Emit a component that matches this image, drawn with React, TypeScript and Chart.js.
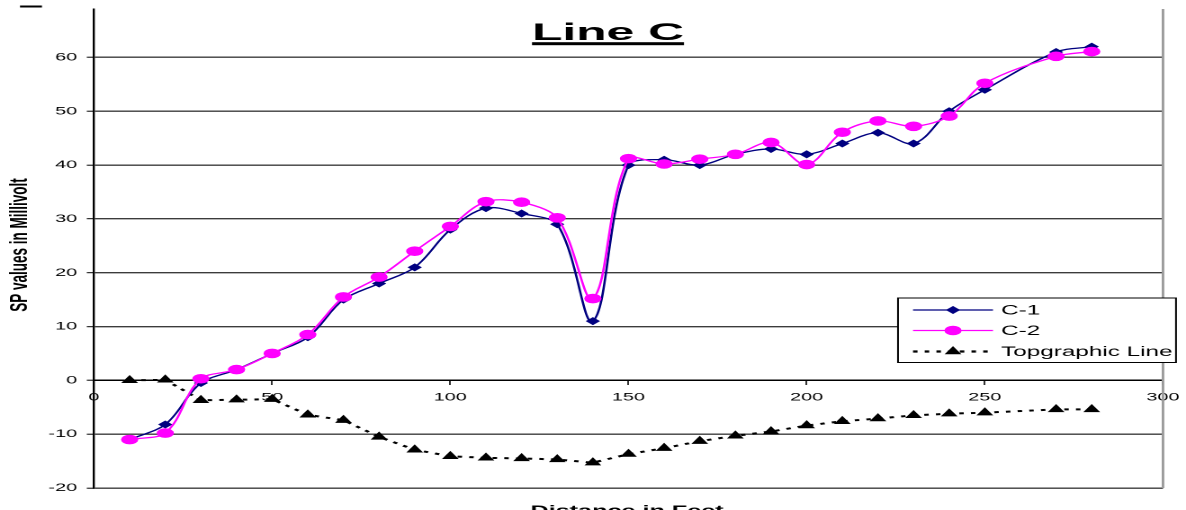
import React, { useEffect, useRef } from 'react';
import { Chart, registerables } from 'chart.js';

Chart.register(...registerables);

// ---- data ----
const distances = [10, 20, 30, 40, 50, 60, 70, 80, 90, 100, 110, 120, 130, 140, 150, 160, 170, 180, 190, 200, 210, 220, 230, 240, 250, 270, 280];
const c1Values = [-11, -8.2, -0.5, 2, 5, 8, 15, 18, 21, 28, 32, 31, 29, 11, 40, 41, 40, 42, 43, 42, 44, 46, 44, 50, 54, 61, 62];
const c2Values = [-11, -9.8, 0.3, 2, 5, 8.5, 15.5, 19.2, 24, 28.6, 33.2, 33.1, 30.2, 15.2, 41.2, 40.2, 41.1, 42, 44.2, 40.1, 46.1, 48.2, 47.2, 49.1, 55.2, 60.2, 61.1];
const topoValues = [0, 0.1, -3.7, -3.6, -3.5, -6.4, -7.4, -10.5, -12.9, -14.1, -14.4, -14.5, -14.7, -15.3, -13.7, -12.6, -11.3, -10.3, -9.5, -8.4, -7.6, -7.1, -6.5, -6.2, -6.0, -5.4, -5.4];
const xTicks = [0, 50, 100, 150, 200, 250, 300];
const yTicks = [-20, -10, 0, 10, 20, 30, 40, 50, 60];
const seriesNames = ['C-1', 'C-2', 'Topgraphic Line'];
const titleText = 'Line C';
const xTitle = 'Distance in Feet';
const yTitle = 'SP values in Millivolt';

// ---- layout (the reference is stretched horizontally) ----
const W = 659;
const SX = 1186 / W;
const H = 510;
const FONT = '"Liberation Sans", Arial, sans-serif';
const NAVY = '#000080';
const PINK = '#FF00FF';

function drawMarker(ctx: CanvasRenderingContext2D, style: string, x: number, y: number, r: number, color: string) {
  ctx.save();
  ctx.fillStyle = color;
  ctx.strokeStyle = color;
  ctx.lineWidth = 1;
  ctx.setLineDash([]);
  ctx.beginPath();
  if (style === 'circle') {
    ctx.arc(x, y, r, 0, Math.PI * 2);
  } else if (style === 'rectRot') {
    ctx.moveTo(x - r, y);
    ctx.lineTo(x, y - r);
    ctx.lineTo(x + r, y);
    ctx.lineTo(x, y + r);
    ctx.closePath();
  } else {
    let a = 0;
    ctx.moveTo(x + Math.sin(a) * r, y - Math.cos(a) * r);
    a += (2 * Math.PI) / 3;
    ctx.lineTo(x + Math.sin(a) * r, y - Math.cos(a) * r);
    a += (2 * Math.PI) / 3;
    ctx.lineTo(x + Math.sin(a) * r, y - Math.cos(a) * r);
    ctx.closePath();
  }
  ctx.fill();
  ctx.stroke();
  ctx.restore();
}

const decor = {
  id: 'decor',
  afterDraw(chart: any) {
    const { ctx, chartArea: ca } = chart;
    ctx.save();
    // right frame line
    ctx.strokeStyle = '#9a9a9a';
    ctx.lineWidth = 1.4;
    ctx.beginPath();
    ctx.moveTo(ca.right, ca.top);
    ctx.lineTo(ca.right, ca.bottom);
    ctx.stroke();

    // small cropped artifact at top-left
    ctx.fillStyle = '#000';
    ctx.fillRect(11.1, 5.5, 12.2, 2);

    // title
    ctx.font = `bold 24px ${FONT}`;
    ctx.fillStyle = '#000';
    ctx.textAlign = 'center';
    ctx.textBaseline = 'alphabetic';
    const tw = ctx.measureText(titleText).width;
    const targetW = 152 / SX;
    const tx = 608 / SX;
    ctx.save();
    ctx.translate(tx, 40);
    ctx.scale(targetW / tw, 1);
    ctx.fillText(titleText, 0, 0);
    ctx.restore();
    ctx.fillRect(tx - targetW / 2, 42.2, targetW, 3);

    // y title
    ctx.save();
    ctx.font = `bold 13.5px ${FONT}`;
    ctx.translate(20 / SX, 245);
    ctx.rotate(-Math.PI / 2);
    ctx.textAlign = 'center';
    ctx.textBaseline = 'middle';
    ctx.fillText(yTitle, 0, 0);
    ctx.restore();

    // x title (cut off at the bottom)
    ctx.font = `bold 14px ${FONT}`;
    ctx.textAlign = 'center';
    ctx.textBaseline = 'alphabetic';
    ctx.fillText(xTitle, 627 / SX, 515);

    // legend
    const lx = 898 / SX;
    const lr = 1176 / SX;
    const ly = 298;
    const lb = 362.5;
    ctx.fillStyle = '#fff';
    ctx.fillRect(lx, ly, lr - lx, lb - ly);
    ctx.strokeStyle = '#000';
    ctx.lineWidth = 1;
    ctx.strokeRect(lx, ly, lr - lx, lb - ly);
    const rows = [310, 330.5, 351.5];
    const s0 = 913 / SX;
    const s1 = 993 / SX;
    const mx = 953 / SX;
    const tx0 = 1001 / SX;
    const styles = [
      { color: NAVY, width: 1.2, dash: [] as number[], marker: 'rectRot', r: 3.3 },
      { color: PINK, width: 1.3, dash: [] as number[], marker: 'circle', r: 4.3 },
      { color: '#000', width: 2.2, dash: [2.5, 4], marker: 'triangle', r: 4.4 },
    ];
    rows.forEach((ry, i) => {
      const st = styles[i];
      ctx.save();
      ctx.strokeStyle = st.color;
      ctx.lineWidth = st.width;
      ctx.setLineDash(st.dash);
      ctx.beginPath();
      ctx.moveTo(s0, ry);
      ctx.lineTo(s1, ry);
      ctx.stroke();
      ctx.restore();
      drawMarker(ctx, st.marker, mx, ry, st.r, st.color);
      ctx.fillStyle = '#000';
      ctx.font = `13.5px ${FONT}`;
      ctx.textAlign = 'left';
      ctx.textBaseline = 'middle';
      ctx.fillText(seriesNames[i], tx0, ry + 1);
    });
    ctx.restore();
  },
};

const zeroPadding = (s: any) => {
  s.paddingTop = 0;
  s.paddingBottom = 0;
  s.paddingLeft = 0;
  s.paddingRight = 0;
};

export default function App() {
  const ref = useRef<HTMLCanvasElement>(null);
  useEffect(() => {
    document.body.style.margin = '0';
    Chart.defaults.font.family = FONT;
    const toPts = (vals: number[]) => distances.map((x, i) => ({ x, y: vals[i] }));
    const chart = new Chart(ref.current as HTMLCanvasElement, {
      type: 'line',
      data: {
        datasets: [
          {
            label: seriesNames[0],
            data: toPts(c1Values),
            borderColor: NAVY,
            backgroundColor: NAVY,
            borderWidth: 1.3,
            pointStyle: 'rectRot',
            pointRadius: 3.3,
            pointBorderWidth: 1,
            tension: 0.35,
            order: 1,
          },
          {
            label: seriesNames[1],
            data: toPts(c2Values),
            borderColor: PINK,
            backgroundColor: PINK,
            borderWidth: 1.3,
            pointStyle: 'circle',
            pointRadius: 4.3,
            pointBorderWidth: 1,
            tension: 0.35,
            order: 0,
          },
          {
            label: seriesNames[2],
            data: toPts(topoValues),
            borderColor: '#000',
            backgroundColor: '#000',
            borderWidth: 2,
            borderDash: [2.5, 4],
            pointStyle: 'triangle',
            pointRadius: 4.4,
            pointBorderWidth: 1,
            tension: 0,
            order: 2,
          },
        ],
      } as any,
      options: {
        animation: false,
        responsive: true,
        maintainAspectRatio: false,
        devicePixelRatio: 2,
        layout: { padding: { left: 0, right: W - 1163 / SX, top: 9, bottom: 22 } },
        plugins: {
          legend: { display: false },
          tooltip: { enabled: false },
          title: { display: false },
        },
        scales: {
          x: {
            type: 'linear',
            min: 0,
            max: 300,
            position: { y: 0 } as any,
            afterBuildTicks: (s: any) => {
              s.ticks = xTicks.map((v) => ({ value: v }));
            },
            afterFit: zeroPadding,
            ticks: { color: '#000', font: { size: 11 }, padding: 6.4, maxRotation: 0, autoSkip: false },
            grid: { drawOnChartArea: false, drawTicks: true, tickLength: 4, color: '#000', lineWidth: 0.8 },
            border: { color: '#000', width: 1.5 },
          },
          y: {
            type: 'linear',
            min: -20,
            max: 69,
            afterBuildTicks: (s: any) => {
              s.ticks = yTicks.map((v) => ({ value: v }));
            },
            afterFit: (s: any) => {
              s.width = 94 / SX;
              zeroPadding(s);
            },
            ticks: { color: '#000', font: { size: 11 }, padding: 5.4 },
            grid: {
              color: (c: any) => (c.tick && c.tick.value === 0 ? '#000' : '#3c3c3c'),
              lineWidth: 1.4,
              tickLength: 4,
              tickColor: '#000',
              tickWidth: 1,
            },
            border: { color: '#000', width: 1.2 },
          },
        },
      } as any,
      plugins: [decor],
    });
    return () => chart.destroy();
  }, []);
  return (
    <div style={{ width: 1186, height: H, overflow: 'hidden', background: '#fff' }}>
      <div style={{ position: 'relative', width: W, height: H, transform: `scaleX(${SX})`, transformOrigin: '0 0' }}>
        <canvas ref={ref} />
      </div>
    </div>
  );
}
